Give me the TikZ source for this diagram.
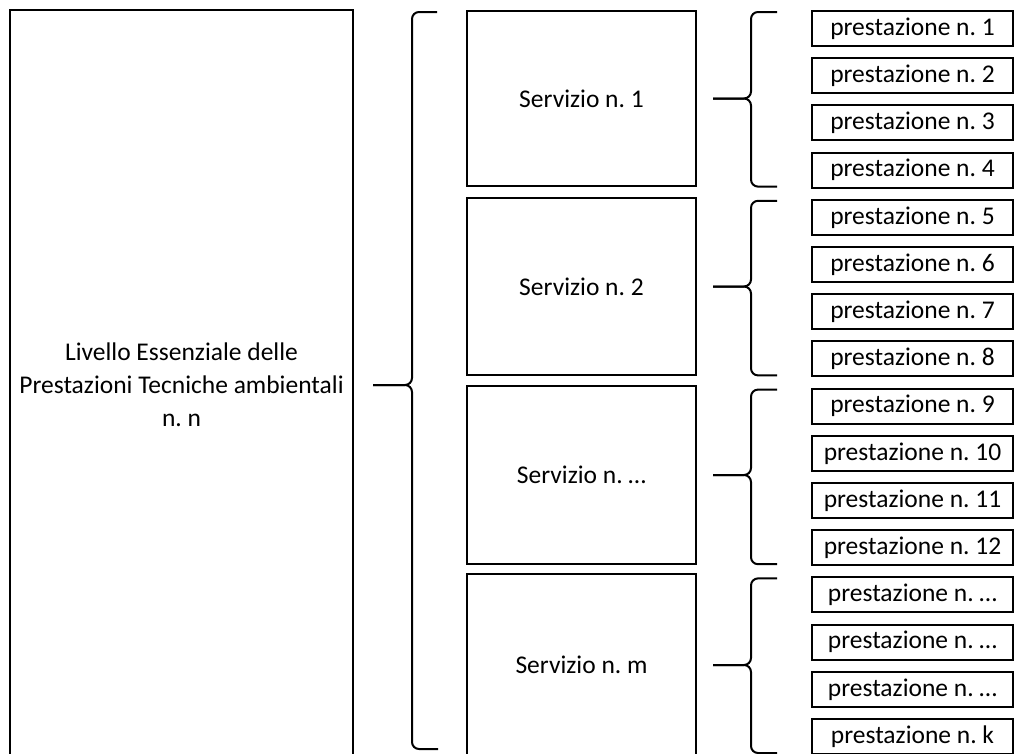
\documentclass[tikz,border=0pt]{standalone}
\usepackage{fontspec}
\setmainfont{Carlito}
\usepackage{tikz}
\usetikzlibrary{calc}
\frenchspacing

\begin{document}
\begin{tikzpicture}[x=1pt,y=-1pt,
    box/.style={draw,line width=2pt,rectangle,inner sep=0pt,font=\fontsize{25.5pt}{33pt}\selectfont,align=center},
    prest/.style={box,minimum width=201pt,minimum height=35pt},
    serv/.style={box,minimum width=229pt},
    bracket/.style={line width=2pt,rounded corners=7pt}]
  \useasboundingbox (0,0) rectangle (1015,753);
  \clip (0,0) rectangle (1015,753);
  \node[box,minimum width=343pt,minimum height=750pt] (lep) at (181.5,385)
    {Livello Essenziale delle\\Prestazioni Tecniche ambientali\\n. n};
  \node[serv,minimum height=175pt] (s1) at (581.5,98.5) {Servizio n. 1};
  \node[serv,minimum height=177pt] (s2) at (581.5,286.5) {Servizio n. 2};
  \node[serv,minimum height=178pt] (s3) at (581.5,475) {Servizio n. …};
  \node[serv,minimum height=182pt] (s4) at (581.5,665) {Servizio n. m};
  \foreach \i in {1,...,12}
    \node[prest] (p\i) at (912.5,{28.5+47.2*(\i-1)}) {prestazione n. \i};
  \node[prest] (p13) at (912.5,{28.5+47.2*12}) {prestazione n. …};
  \node[prest] (p14) at (912.5,{28.5+47.2*13}) {prestazione n. …};
  \node[prest] (p15) at (912.5,{28.5+47.2*14}) {prestazione n. …};
  \node[prest] (p16) at (912.5,{28.5+47.2*15}) {prestazione n. k};
  \coordinate (bend) at (438,749);
  \draw[bracket] ([xshift=19pt]lep.east) -- ([xshift=-54pt]s1.west |- lep.east)
    |- ([shift={(-29pt,-2pt)}]s1.north west);
  \draw[bracket] ([xshift=19pt]lep.east) -- ([xshift=-54pt]s1.west |- lep.east)
    |- (bend);
  \foreach \s/\a/\b in {s1/1/4,s2/5/8,s3/9/12,s4/13/16} {
    \draw[bracket] ([xshift=16pt]\s.east) -- ([xshift=-60pt]p\a.west |- \s.east)
      |- ([shift={(-34pt,-2pt)}]p\a.north west);
    \draw[bracket] ([xshift=16pt]\s.east) -- ([xshift=-60pt]p\a.west |- \s.east)
      |- ([shift={(-34pt,2pt)}]p\b.south west);
  }
\end{tikzpicture}
\end{document}
